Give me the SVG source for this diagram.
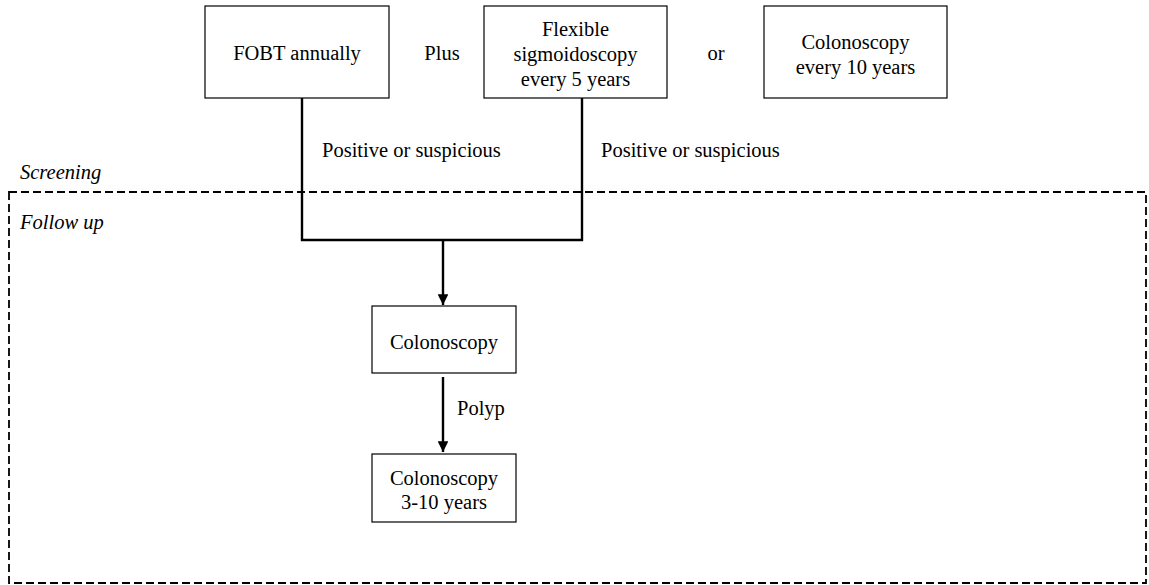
<svg xmlns="http://www.w3.org/2000/svg" width="1149" height="585" viewBox="0 0 1149 585">
<style>
text{font-family:"Liberation Serif","Times New Roman",serif;font-size:20.5px;fill:#000}
.c{text-anchor:middle}
.i{font-style:italic}
.box{fill:#fff;stroke:#000;stroke-width:1.2}
.conn{fill:none;stroke:#000;stroke-width:2.4}
.dash{fill:none;stroke:#000;stroke-width:1.8;stroke-dasharray:8,4}
</style>
<defs>
<marker id="ah" viewBox="0 0 10 10" refX="10" refY="5" markerWidth="4.5" markerHeight="4.5" markerUnits="strokeWidth" orient="auto">
<path d="M0,0 L10,5 L0,10 z" fill="#000"/>
</marker>
</defs>
<rect class="dash" x="9" y="192" width="1137" height="391"/>
<text class="i" x="20" y="179">Screening</text>
<text class="i" x="20" y="229">Follow up</text>
<g id="connectors">
<path class="conn" d="M302,98 V240 H582 V98"/>
<path class="conn" d="M443,240 V305" marker-end="url(#ah)"/>
<path class="conn" d="M443,377 V452" marker-end="url(#ah)"/>
<text x="322" y="157">Positive or suspicious</text>
<text x="601" y="157">Positive or suspicious</text>
<text x="457" y="415">Polyp</text>
</g>
<g id="fobt"><rect class="box" x="205" y="6" width="184" height="92"/><text class="c" x="297" y="60">FOBT annually</text></g>
<text class="c" x="442" y="60">Plus</text>
<g id="flex"><rect class="box" x="484" y="6" width="183" height="92"/><text class="c" x="575.5" y="36">Flexible</text><text class="c" x="575.5" y="61">sigmoidoscopy</text><text class="c" x="575.5" y="86">every 5 years</text></g>
<text class="c" x="716" y="60">or</text>
<g id="colo10"><rect class="box" x="764" y="6" width="183" height="92"/><text class="c" x="855.5" y="49">Colonoscopy</text><text class="c" x="855.5" y="74">every 10 years</text></g>
<g id="colo"><rect class="box" x="372" y="306" width="144" height="67"/><text class="c" x="444" y="349">Colonoscopy</text></g>
<g id="colo310"><rect class="box" x="372" y="454" width="144" height="68"/><text class="c" x="444" y="485">Colonoscopy</text><text class="c" x="444" y="509">3-10 years</text></g>
</svg>
